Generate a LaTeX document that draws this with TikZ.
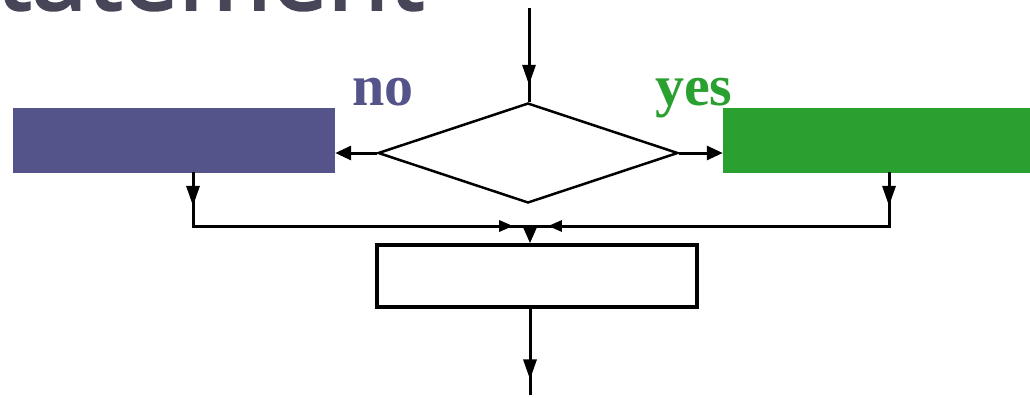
\documentclass[tikz,border=0pt]{standalone}
\usepackage{fontspec}
\usetikzlibrary{arrows.meta,shapes.geometric,decorations.markings}
\newfontfamily\titlefont{Open Sans}[FakeBold=2.5]
\newfontfamily\lblfont{Liberation Serif}
\definecolor{nocol}{RGB}{84,84,138}
\definecolor{yescol}{RGB}{42,160,48}
\definecolor{titlecol}{RGB}{70,70,88}
\begin{document}
\begin{tikzpicture}[x=1pt,y=-1pt,
  conn/.style={line width=3pt,draw=black},
  sidetip/.style={-{Triangle[length=16pt,width=14pt]}},
  midtip/.style={postaction={decorate},decoration={markings,mark=at position #1 with {\arrow{Triangle[length=20pt,width=13pt]}}}},
  smalltip/.style={postaction={decorate},decoration={markings,mark=at position #1 with {\arrow{Triangle[length=14pt,width=11pt]}}}},
  lbl/.style={anchor=base west,inner sep=0pt,font=\lblfont\bfseries\fontsize{58}{62}\selectfont},
  plain/.style={inner sep=0pt,draw=none}
]
\useasboundingbox (0,0) rectangle (1030,397);
\clip (0,0) rectangle (1030,397);
\fill[white] (0,0) rectangle (1030,397);

\node[anchor=base west,inner sep=0pt,text=titlecol,font=\titlefont\fontsize{100}{110}\selectfont] (title) at (-4,9.5) {tatement};

\node[draw,diamond,line width=2.5pt,minimum width=300pt,minimum height=100pt,inner sep=0pt] (dec) at (528,153) {};
\node[plain,fill=nocol,minimum width=322pt,minimum height=65pt] (nobox) at (174,140.5) {};
\node[plain,fill=yescol,minimum width=312pt,minimum height=65pt] (yesbox) at (879,140.5) {};
\node[draw,line width=3.5pt,minimum width=320pt,minimum height=62pt,inner sep=0pt] (proc) at (537,276) {};

\node[lbl,text=nocol] (nolbl) at (352,105) {no};
\node[lbl,text=yescol] (yeslbl) at (655,105) {yes};

\coordinate (in) at (529,8);
\coordinate (join) at (530,226);
\coordinate (out) at (530,395);
\coordinate (lc) at (193,226);
\coordinate (rc) at (889,226);

\draw[conn,midtip=0.82] (in) -- (dec.north -| in);
\draw[conn,sidetip] (dec.west) -- (dec.west -| nobox.east);
\draw[conn,sidetip] (dec.east) -- (dec.east -| yesbox.west);
\draw[conn,line cap=rect,midtip=0.62] (lc |- nobox.south) -- (lc);
\draw[conn,line cap=rect,midtip=0.62] (rc |- yesbox.south) -- (rc);
\draw[conn,smalltip=0.95] (lc) -- (join);
\draw[conn,smalltip=0.95] (rc) -- (join);
\draw[conn,-{Triangle[length=16pt,width=13pt]}] (join) -- (join |- proc.north);
\draw[conn,midtip=0.82] (join |- proc.south) -- (out);
\end{tikzpicture}
\end{document}
